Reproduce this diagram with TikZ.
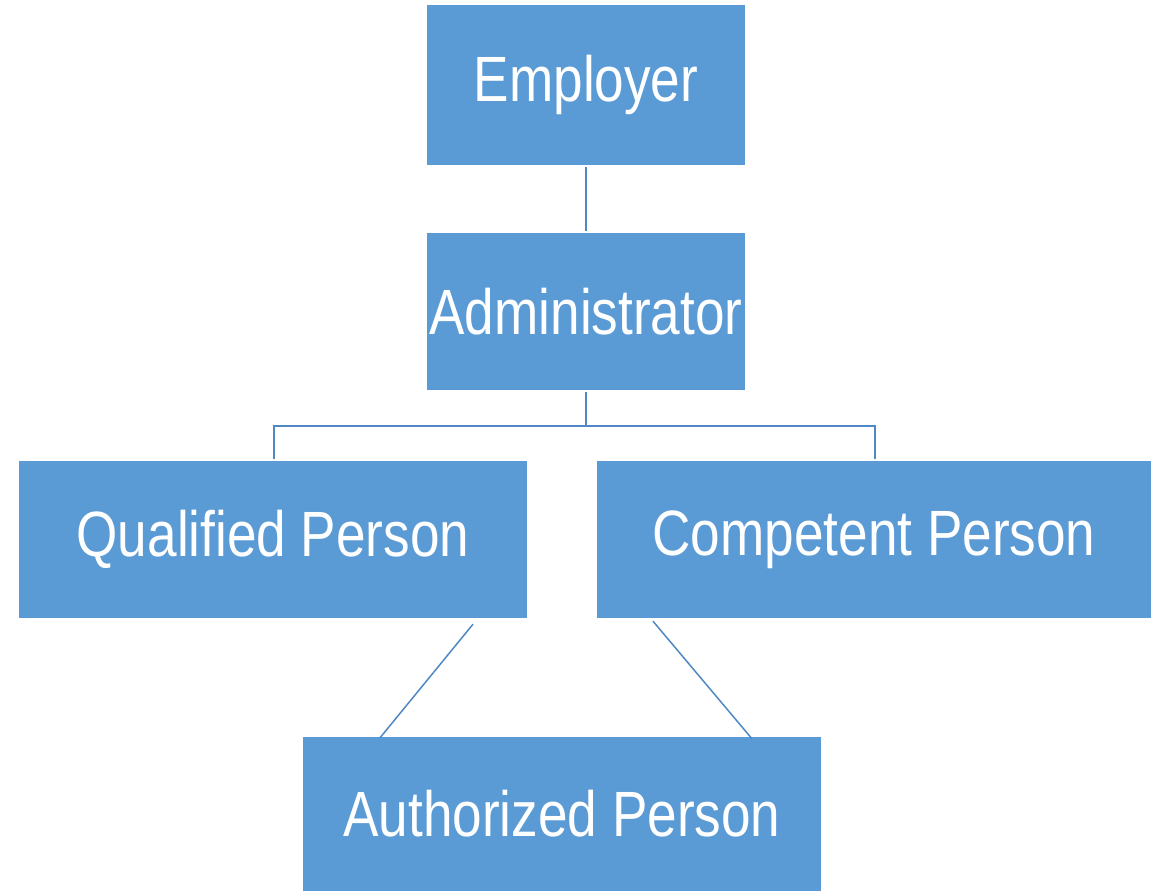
\documentclass[tikz,border=0pt]{standalone}
\usepackage{fontspec}
\setmainfont[FakeStretch=0.83]{Liberation Sans}
\usetikzlibrary{calc}
\definecolor{boxfill}{HTML}{5B9BD5}
\definecolor{linkc}{HTML}{4F88C4}
\begin{document}
\begin{tikzpicture}[x=1pt,y=1pt,
  box/.style={fill=boxfill,draw=none,text=white,inner sep=0pt,
    font=\fontsize{64}{70}\selectfont},
  link/.style={draw=linkc,line width=1.5pt}]
\useasboundingbox (0,0) rectangle (1153,-891);
\node[box,minimum width=318,minimum height=160] (emp) at (586,-85) {Employer};
\node[box,minimum width=318,minimum height=157] (adm) at (586,-311.5) {Administrator};
\node[box,minimum width=508,minimum height=157] (qp) at (273,-539.5) {Qualified Person};
\node[box,minimum width=554,minimum height=157] (cp) at (874,-539.5) {Competent Person};
\node[box,minimum width=518,minimum height=154] (ap) at (562,-814) {Authorized Person};
\draw[link] ($(emp.south)+(0,-2)$) -- ($(adm.north)+(0,2)$);
\coordinate (bus) at ($(adm.south)+(0,-36)$);
\draw[link] ($(adm.south)+(0,-2)$) -- (bus);
\draw[link] ($(qp.north)+(1,2)$) |- (bus) -| ($(cp.north)+(1,2)$);
\draw[link] ($(qp.south)+(200,-6)$) -- ($(ap.north)+(-182,-1)$);
\draw[link] ($(cp.south)+(-221,-3)$) -- ($(ap.north)+(190,-2)$);
\end{tikzpicture}
\end{document}
